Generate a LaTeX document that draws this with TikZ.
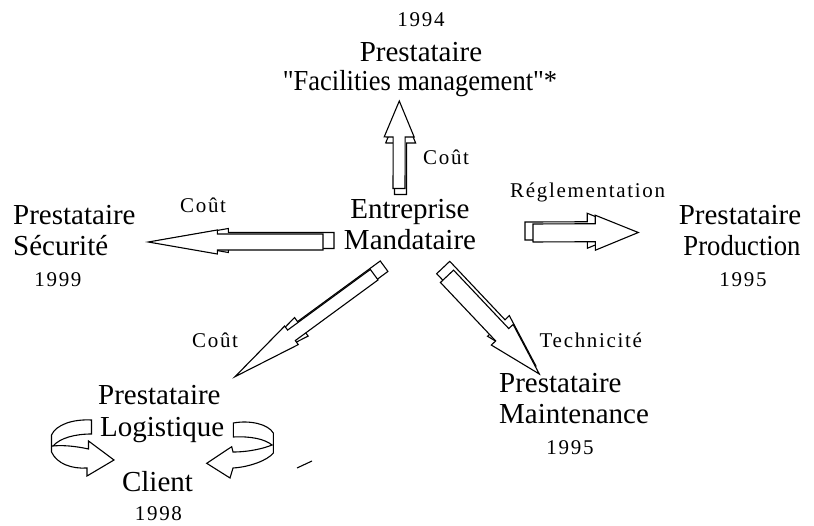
\documentclass[tikz,border=0pt]{standalone}
\usepackage{fontspec}
\setmainfont{Liberation Serif}[Ligatures=TeXOff]
\newfontfamily\spacedserif{Liberation Serif}[LetterSpace=8, Ligatures=TeXOff]
\usetikzlibrary{calc}
\tikzset{
  big/.style={font=\fontsize{29}{33}\selectfont, inner sep=0pt},
  small/.style={font=\spacedserif\fontsize{21}{24}\selectfont, inner sep=0pt},
  face/.style={draw=black, fill=white, line width=1.1pt, line join=miter},
  plainline/.style={draw=black, line width=1.1pt},
}
\newcommand{\arrowpoly}[4]{%
  \coordinate (#1B) at ($(#1P)!#4!(#1T)$);
  \draw[face] ($(#1T)!#2!90:(#1P)$) -- ($(#1B)!#2!90:(#1P)$) -- ($(#1B)!#3!90:(#1P)$) -- (#1P)
     -- ($(#1B)!#3!-90:(#1P)$) -- ($(#1B)!#2!-90:(#1P)$) -- ($(#1T)!#2!-90:(#1P)$) -- cycle;
}
\newcommand{\threedarrow}[8]{%
  \coordinate (#1T) at #2;
  \coordinate (#1P) at #3;
  \coordinate (#1bT0) at ($(#1T)!-#7!(#1P)$);
  \coordinate (#1bP0) at ($(#1P)!#7!(#1T)$);
  \coordinate (#1bkT) at ($(#1bT0)!#8!90:(#1bP0)$);
  \coordinate (#1bkP) at ($(#1bP0)!#8!-90:(#1bT0)$);
  \arrowpoly{#1bk}{#4}{#5}{#6}
  \arrowpoly{#1}{#4}{#5}{#6}
}
\begin{document}
\begin{tikzpicture}[x=1pt,y=-1pt]
\useasboundingbox (0,0) rectangle (814,526);

% texts (anchored on baselines)
\node[small, anchor=base] (y1994) at (421,27) {1994};
\node[big, anchor=base] (facA) at (421,62) {Prestataire};
\node[big, anchor=base] (facB) at (420,91) {\scalebox{0.915}[1]{"Facilities management"*}};
\node[big, anchor=base] (entA) at (410,219) {Entreprise};
\node[big, anchor=base] (entB) at (410,250) {Mandataire};
\node[big, anchor=base west] (secA) at (13,224.3) {Prestataire};
\node[big, anchor=base west] (secB) at (13,256) {Sécurité};
\node[small, anchor=base] (y1999) at (58,287) {1999};
\node[big, anchor=base] (proA) at (740,224.3) {Prestataire};
\node[big, anchor=base] (proB) at (742,256) {\scalebox{0.92}[1]{Production}};
\node[small, anchor=base] (y1995a) at (743,287) {1995};
\node[big, anchor=base west] (mntA) at (499,392.7) {Prestataire};
\node[big, anchor=base west] (mntB) at (499,423.3) {Maintenance};
\node[small, anchor=base] (y1995b) at (570,454) {1995};
\node[big, anchor=base west] (logA) at (98,405) {Prestataire};
\node[big, anchor=base west] (logB) at (100,436.7) {Logistique};
\node[big, anchor=base] (client) at (157.5,491.7) {Client};
\node[small, anchor=base] (y1998) at (158.5,520) {1998};

\node[small, anchor=base west] (c1) at (423,165) {Coût};
\node[small, anchor=base west] (c2) at (180,213) {Coût};
\node[small, anchor=base west] (regl) at (510,197.3) {Réglementation};
\node[small, anchor=base west] (c3) at (192,348) {Coût};
\node[small, anchor=base west] (tech) at (539.5,348) {Technicité};

% 3D block arrows
\threedarrow{A}{(399,188.5)}{(399.3,101)}{6pt}{15pt}{36pt}{6pt}{-1.5pt}
\threedarrow{Bl}{(323,242)}{(148.3,242)}{8pt}{12pt}{69pt}{11pt}{-1.5pt}
\threedarrow{C}{(533,233)}{(638.3,232.5)}{9pt}{17.5pt}{43pt}{8pt}{2pt}
\threedarrow{D}{(374.2,274.7)}{(235,376.7)}{6.5pt}{11.5pt}{70pt}{13pt}{-1pt}
\threedarrow{E}{(447,276.3)}{(539.3,374)}{9pt}{15pt}{54pt}{9pt}{3.3pt}

% curved arrows around Logistique
\draw[face] (91.5,420) .. controls (72,419) and (56,425) .. (51.5,435) -- (51.5,452)
  .. controls (57,464) and (72,469) .. (87,468) -- (87,476) -- (114,460) -- (88.5,441) -- (88.5,449)
  .. controls (75,446) and (62,445) .. (53,446) .. controls (60,438) and (75,434) .. (91.5,434) -- cycle;
\draw[face] (233.3,423) .. controls (250,420) and (268,424) .. (273.3,433) -- (273.3,453)
  .. controls (268,460) and (250,467) .. (233,468) -- (230,478) -- (206.7,463.3) -- (231.7,446.7) -- (233,452)
  .. controls (250,452) and (265,448) .. (272,445) .. controls (265,439) and (250,436) .. (233.3,437) -- cycle;
\draw[plainline] (297,468) -- (312,461);
\end{tikzpicture}
\end{document}
